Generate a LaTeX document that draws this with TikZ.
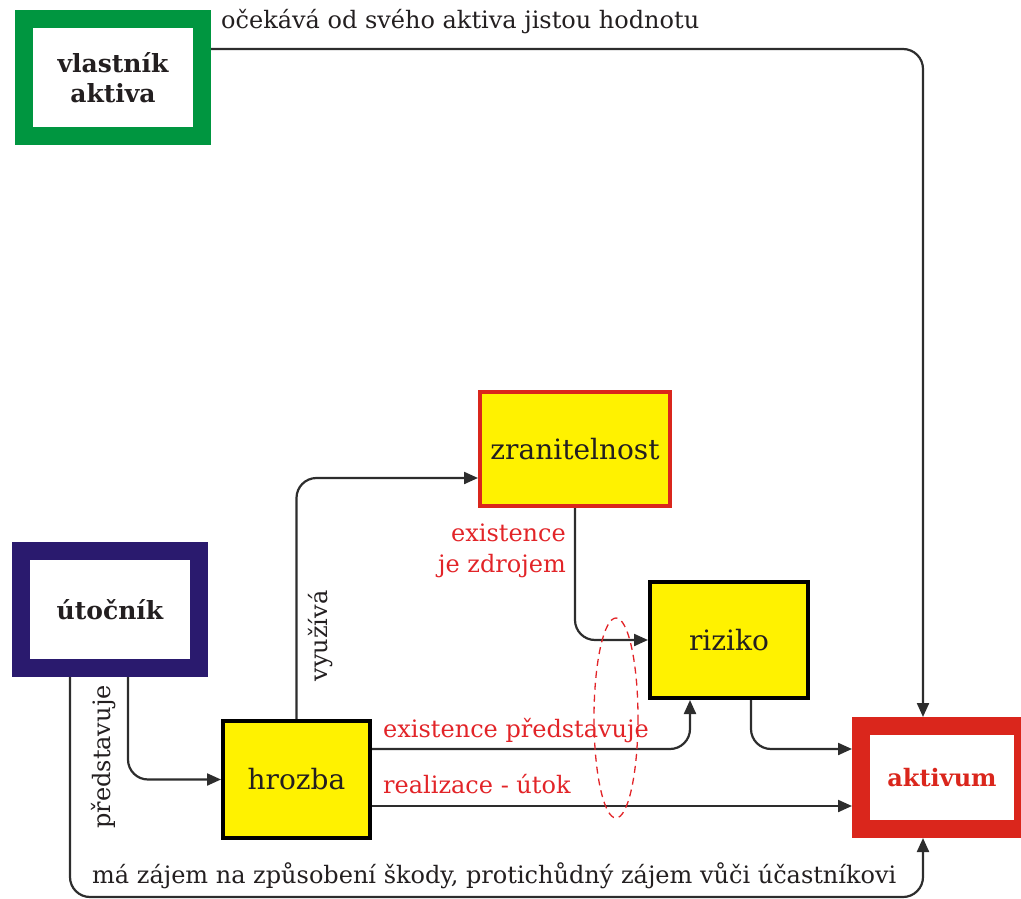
\documentclass[tikz,border=0pt]{standalone}
\usepackage{fontspec}
\setmainfont{DejaVu Serif}
\usetikzlibrary{arrows.meta}
\definecolor{cgreen}{RGB}{0,150,64}
\definecolor{cnavy}{RGB}{42,26,110}
\definecolor{cred}{RGB}{218,38,28}
\definecolor{cyel}{RGB}{255,242,0}
\definecolor{ctext}{RGB}{35,31,32}
\definecolor{clabel}{RGB}{226,36,40}
\definecolor{cline}{RGB}{45,45,45}
\tikzset{
  party/.style={draw, line width=18pt, fill=white, text=ctext, font=\bfseries\fontsize{25}{30}\selectfont, align=center, inner sep=0pt},
  ybox/.style={draw, line width=4pt, fill=cyel, text=ctext, font=\fontsize{28}{32}\selectfont, inner sep=0pt},
  conn/.style={line width=2.2pt, draw=cline, rounded corners=20pt, -{Triangle[width=12pt,length=14pt]}},
  blab/.style={text=ctext, font=\fontsize{24}{28}\selectfont, inner sep=0pt},
  rlab/.style={text=clabel, font=\fontsize{24}{31}\selectfont, inner sep=0pt},
}
\begin{document}
\begin{tikzpicture}[x=1pt,y=-1pt]
\useasboundingbox (0,0) rectangle (1021,899);
% nodes
\node[party, draw=cgreen, minimum width=178pt, minimum height=117pt] (vl) at (113,77.5) {vlastník\\aktiva};
\node[party, draw=cnavy, minimum width=178pt, minimum height=117pt] (ut) at (110,609.5) {útočník};
\node[party, draw=cred, text=cred, font=\bfseries\fontsize{24}{28}\selectfont, minimum width=162pt, minimum height=103pt] (ak) at (942,777.5) {aktivum};
\node[ybox, draw=cred, minimum width=190pt, minimum height=114pt] (zr) at (575,449) {zranitelnost};
\node[ybox, draw=black, minimum width=158pt, minimum height=116pt] (ri) at (729,640) {riziko};
\node[ybox, draw=black, minimum width=147pt, minimum height=117pt] (hr) at (296.5,779.5) {hrozba};
% connectors
\draw[conn] ([yshift=28.5pt]vl.east) -| ([xshift=-19pt]ak.north);
\draw[conn] ([xshift=18pt]ut.south) |- (hr.west);
\draw[conn] ([xshift=-40pt]ut.south) -- ++(0,220) -| ([xshift=-19pt]ak.south);
\draw[conn] (hr.north) |- ([yshift=-29pt]zr.west);
\draw[conn] (zr.south) |- (ri.west);
\draw[conn] ([yshift=30.5pt]hr.east) -| ([xshift=-39pt]ri.south);
\coordinate (hrb) at ([yshift=-26.5pt]hr.east);
\draw[conn] (hrb) -- (hrb -| ak.west);
\draw[conn] ([xshift=22pt]ri.south) |- ([yshift=28.5pt]ak.west);
% ellipse
\draw[clabel, line width=1.3pt, dash pattern=on 7pt off 5pt] (616,718) ellipse [x radius=22, y radius=100];
% labels
\node[blab, anchor=west] (l1) at (221,22) {očekává od svého aktiva jistou hodnotu};
\node[blab, rotate=90] (l2) at (104,757) {představuje};
\node[blab, rotate=90] (l3) at (321,636) {využívá};
\node[rlab, align=right, anchor=east] (l4) at (566,551) {existence\\je zdrojem};
\node[rlab, anchor=west] (l5) at (383,731) {existence představuje};
\node[rlab, anchor=west] (l6) at (383,784) {realizace - útok};
\node[blab, anchor=west] (l7) at (92,876) {má zájem na způsobení škody, protichůdný zájem vůči účastníkovi};
\end{tikzpicture}
\end{document}
